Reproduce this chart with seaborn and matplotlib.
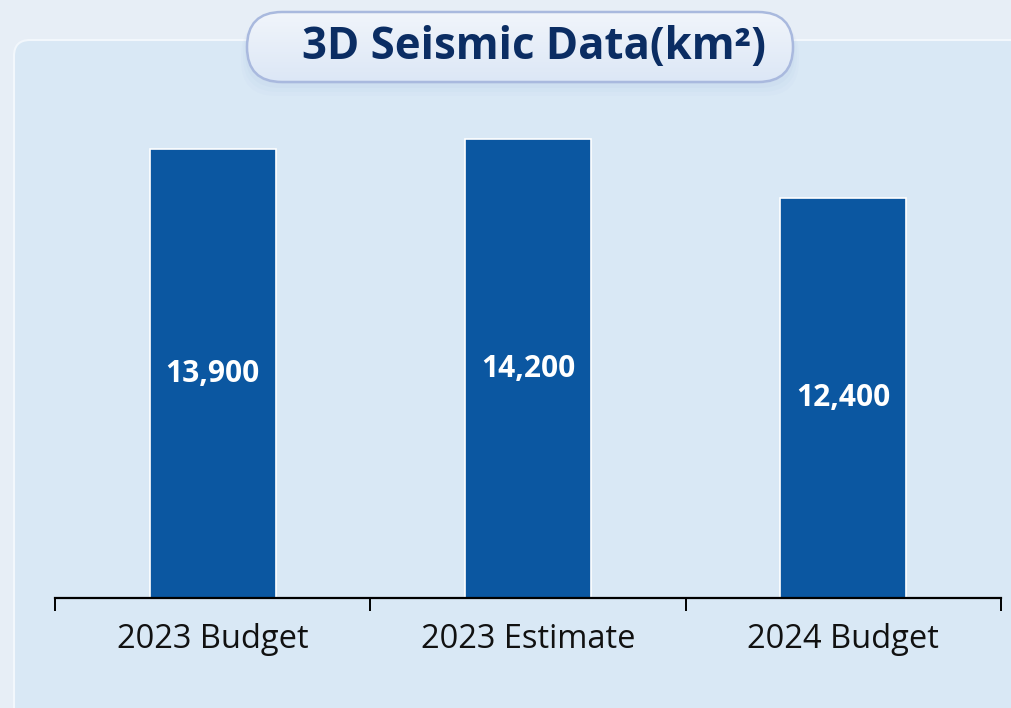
import matplotlib
matplotlib.use("Agg")
import matplotlib.pyplot as plt
import seaborn as sns
import numpy as np
import pandas as pd
from matplotlib.patches import FancyBboxPatch

# data
categories = ["2023 Budget", "2023 Estimate", "2024 Budget"]
values = [13900, 14200, 12400]
value_labels = ["13,900", "14,200", "12,400"]
title = "3D Seismic Data(km²)"

bar_color = "#0b57a1"
panel_color = "#d9e8f5"
outer_color = "#e7eef6"
title_color = "#0b2d63"

sns.set_theme(style="white")
plt.rcParams["font.family"] = ["Open Sans", "DejaVu Sans"]

W, H = 1011, 708
fig = plt.figure(figsize=(W / 100, H / 100), dpi=100)
fig.patch.set_facecolor(outer_color)

# background layer in pixel coordinates
bg = fig.add_axes([0, 0, 1, 1], zorder=0)
bg.set_xlim(0, W)
bg.set_ylim(H, 0)
bg.axis("off")

panel = FancyBboxPatch((14, 40), W + 40, H + 40,
                       boxstyle="round,pad=0,rounding_size=16",
                       facecolor=panel_color, edgecolor="#f2f7fc", linewidth=1.5)
bg.add_patch(panel)

# soft shadow under the title pill
for i, a in enumerate([0.05, 0.05, 0.04, 0.03]):
    sh = FancyBboxPatch((247 - 2 * i, 14 + 2 * i), 546 + 4 * i, 70 + 2 * i,
                        boxstyle="round,pad=0,rounding_size=35",
                        facecolor="#8aa6d6", edgecolor="none", alpha=a)
    bg.add_patch(sh)

pill = FancyBboxPatch((247, 12), 546, 70,
                      boxstyle="round,pad=0,rounding_size=35",
                      facecolor="none", edgecolor="#a9b9de", linewidth=1.8, zorder=3)
bg.add_patch(pill)
grad = np.linspace(0, 1, 100).reshape(-1, 1)
img = bg.imshow(grad, extent=(247, 793, 82, 12), aspect="auto",
                cmap=matplotlib.colors.LinearSegmentedColormap.from_list(
                    "pill", ["#f1f5fb", "#dce7f6"]), zorder=2)
img.set_clip_path(pill)
bg.text(534, 47, title, ha="center", va="center", fontsize=31.5,
        fontweight="bold", color=title_color, zorder=4)

# main chart
ax = fig.add_axes([55 / W, 1 - 598 / H, (1001 - 55) / W, (598 - 100) / H], zorder=1)
ax.patch.set_alpha(0)
df = pd.DataFrame({"category": categories, "value": values})
sns.barplot(data=df, x="category", y="value", color=bar_color, saturation=1,
            width=0.4, edgecolor="white", linewidth=1.2, ax=ax)

ax.set_ylim(0, 15420)
ax.set_xlim(-0.5, 2.5)
ax.set_xlabel("")
ax.set_ylabel("")
ax.set_yticks([])
for s in ["left", "right", "top"]:
    ax.spines[s].set_visible(False)
ax.spines["bottom"].set_color("black")
ax.spines["bottom"].set_linewidth(1.6)

ax.set_xticks(range(len(categories)))
ax.set_xticklabels(categories, fontsize=23.5, color="#111111")
ax.tick_params(axis="x", which="major", length=0, pad=18)
ax.set_xticks([-0.5, 0.5, 1.5, 2.5], minor=True)
ax.tick_params(axis="x", which="minor", length=9, width=1.4, color="black",
               direction="out", bottom=True)

for i, (v, lab) in enumerate(zip(values, value_labels)):
    ax.text(i, v / 2, lab, ha="center", va="center", fontsize=21.5,
            fontweight="bold", color="white")

fig.savefig("out.png", dpi=100, facecolor=fig.get_facecolor())
